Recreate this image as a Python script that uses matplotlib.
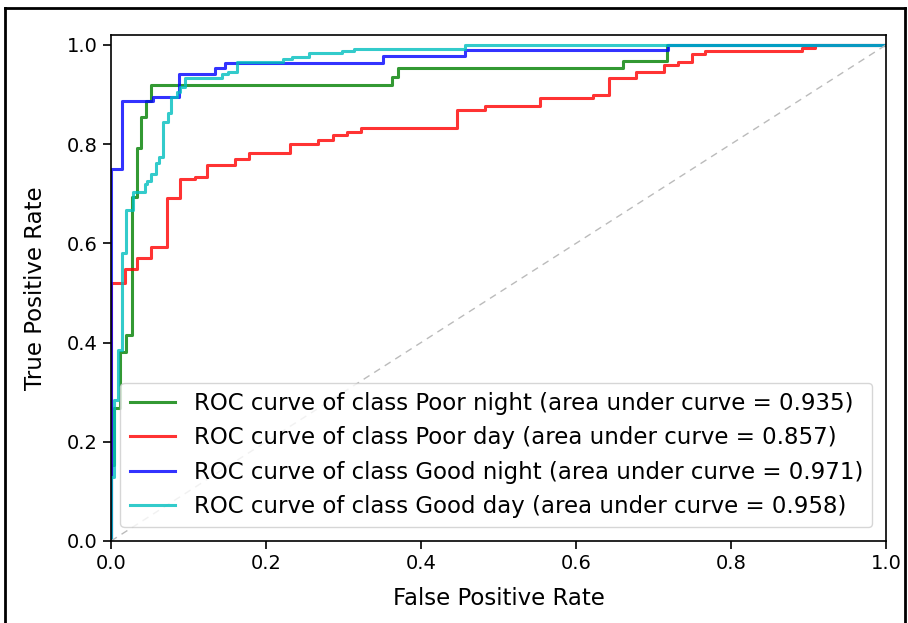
import matplotlib
matplotlib.use("Agg")
import matplotlib.pyplot as plt
from matplotlib.lines import Line2D

# ROC step curves (fpr, tpr)
poor_night_fpr = [0.0, 0.0, 0.004, 0.004, 0.012, 0.012, 0.019, 0.019, 0.027, 0.027, 0.033, 0.033,
                  0.039, 0.039, 0.045, 0.045, 0.052, 0.052, 0.362, 0.362, 0.370, 0.370, 0.661, 0.661,
                  0.717, 0.717, 1.0]
poor_night_tpr = [0.0, 0.153, 0.153, 0.268, 0.268, 0.38, 0.38, 0.415, 0.415, 0.694, 0.694, 0.792,
                  0.792, 0.855, 0.855, 0.886, 0.886, 0.92, 0.92, 0.936, 0.936, 0.954, 0.954, 0.968,
                  0.968, 1.0, 1.0]

poor_day_fpr = [0.0, 0.0, 0.018, 0.018, 0.034, 0.034, 0.052, 0.052, 0.072, 0.072, 0.089, 0.089,
                0.108, 0.108, 0.124, 0.124, 0.160, 0.160, 0.178, 0.178, 0.231, 0.231, 0.267, 0.267,
                0.287, 0.287, 0.304, 0.304, 0.323, 0.323, 0.446, 0.446, 0.483, 0.483, 0.554, 0.554,
                0.622, 0.622, 0.642, 0.642, 0.678, 0.678, 0.713, 0.713, 0.732, 0.732, 0.750, 0.750,
                0.766, 0.766, 0.891, 0.891, 0.908, 0.908, 1.0]
poor_day_tpr = [0.0, 0.52, 0.52, 0.548, 0.548, 0.57, 0.57, 0.593, 0.593, 0.691, 0.691, 0.729,
                0.729, 0.734, 0.734, 0.758, 0.758, 0.771, 0.771, 0.782, 0.782, 0.80, 0.80, 0.808,
                0.808, 0.819, 0.819, 0.824, 0.824, 0.832, 0.832, 0.869, 0.869, 0.876, 0.876, 0.893,
                0.893, 0.899, 0.899, 0.934, 0.934, 0.945, 0.945, 0.96, 0.96, 0.965, 0.965, 0.981,
                0.981, 0.988, 0.988, 0.993, 0.993, 1.0, 1.0]

good_night_fpr = [0.0, 0.0, 0.014, 0.014, 0.054, 0.054, 0.088, 0.088, 0.134, 0.134, 0.147, 0.147,
                  0.351, 0.351, 0.457, 0.457, 0.719, 0.719, 1.0]
good_night_tpr = [0.0, 0.75, 0.75, 0.887, 0.887, 0.896, 0.896, 0.941, 0.941, 0.953, 0.953, 0.963,
                  0.963, 0.978, 0.978, 0.99, 0.99, 1.0, 1.0]

good_day_fpr = [0.0, 0.0, 0.004, 0.004, 0.009, 0.009, 0.014, 0.014, 0.019, 0.019, 0.029, 0.029,
                0.044, 0.044, 0.047, 0.047, 0.052, 0.052, 0.058, 0.058, 0.062, 0.062, 0.067, 0.067,
                0.074, 0.074, 0.078, 0.078, 0.085, 0.085, 0.089, 0.089, 0.095, 0.095, 0.143, 0.143,
                0.151, 0.151, 0.162, 0.162, 0.222, 0.222, 0.233, 0.233, 0.255, 0.255, 0.298, 0.298,
                0.313, 0.313, 0.457, 0.457, 1.0]
good_day_tpr = [0.0, 0.13, 0.13, 0.284, 0.284, 0.385, 0.385, 0.58, 0.58, 0.667, 0.667, 0.704,
                0.704, 0.72, 0.72, 0.725, 0.725, 0.739, 0.739, 0.761, 0.761, 0.775, 0.775, 0.844,
                0.844, 0.862, 0.862, 0.896, 0.896, 0.906, 0.906, 0.916, 0.916, 0.934, 0.934, 0.941,
                0.941, 0.946, 0.946, 0.966, 0.966, 0.972, 0.972, 0.976, 0.976, 0.983, 0.983, 0.988,
                0.988, 0.992, 0.992, 1.0, 1.0]

class_names = ["Poor night", "Poor day", "Good night", "Good day"]
aucs = [0.935, 0.857, 0.971, 0.958]
colors = [(0.0, 0.5, 0.0, 0.8), (1.0, 0.0, 0.0, 0.8), (0.0, 0.0, 1.0, 0.8), (0.0, 0.75, 0.75, 0.8)]

curves = [(poor_night_fpr, poor_night_tpr), (poor_day_fpr, poor_day_tpr),
          (good_night_fpr, good_night_tpr), (good_day_fpr, good_day_tpr)]

W, H = 908, 623
fig = plt.figure(figsize=(W / 100, H / 100), dpi=100)
ax = fig.add_axes([111 / W, 1 - 541 / H, (886 - 111) / W, (541 - 35) / H])

for (fx, ty), name, auc, c in zip(curves, class_names, aucs, colors):
    ax.plot(fx, ty, color=c, lw=2.2,
            label=f"ROC curve of class {name} (area under curve = {auc:.3f})")

ax.plot([0, 1], [0, 1], linestyle=(0, (5, 4)), color="#bbbbbb", lw=1)

ax.set_xlim(0.0, 1.0)
ax.set_ylim(0.0, 1.02)
ax.set_xticks([0.0, 0.2, 0.4, 0.6, 0.8, 1.0])
ax.set_yticks([0.0, 0.2, 0.4, 0.6, 0.8, 1.0])
ax.tick_params(labelsize=14, length=6, width=1.2)
ax.set_xlabel("False Positive Rate", fontsize=16.5, labelpad=10)
ax.set_ylabel("True Positive Rate", fontsize=16.5, labelpad=14)
for s in ax.spines.values():
    s.set_linewidth(1.2)
ax.legend(loc="lower right", fontsize=16.5, framealpha=0.8, handlelength=2.0,
          borderaxespad=0.6)

# screenshot frame
for xs, ys in [([5 / W, 5 / W], [0, 1 - 8 / H]), ([5 / W, 905 / W], [1 - 8 / H, 1 - 8 / H]),
               ([905 / W, 905 / W], [0, 1 - 8 / H])]:
    fig.add_artist(Line2D(xs, ys, color="black", lw=2, transform=fig.transFigure))

fig.savefig("out.png", dpi=100)
